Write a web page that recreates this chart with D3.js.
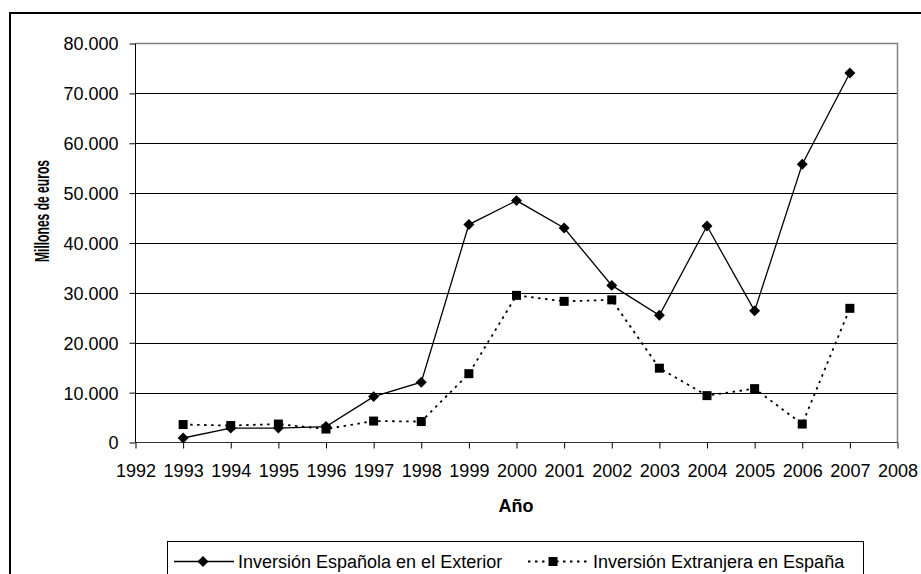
<!DOCTYPE html>
<meta charset="utf-8">
<script src="https://cdn.jsdelivr.net/npm/d3@7"></script>
<style type="text/css">
    body {
        margin: 0;
        background: #fff;
    }

    .tick text {
        font-family: "Liberation Sans", Arial, sans-serif;
        font-size: 18px;
        fill: #000;
    }

    .label {
        font-family: "Liberation Sans", Arial, sans-serif;
        font-size: 18px;
        font-weight: bold;
    }

    .legend text {
        font-family: "Liberation Sans", Arial, sans-serif;
        font-size: 18px;
    }
</style>

<body>
    <script type="text/javascript">
        var years = [1993, 1994, 1995, 1996, 1997, 1998, 1999, 2000, 2001, 2002, 2003, 2004, 2005, 2006, 2007];
        var espanola = [900, 2900, 2900, 3200, 9200, 12100, 43700, 48500, 43000, 31500, 25500, 43400, 26400, 55800, 74100];
        var extranjera = [3600, 3400, 3700, 2700, 4300, 4200, 13800, 29500, 28300, 28600, 14900, 9400, 10800, 3700, 26900];
        var seriesNames = ["Inversión Española en el Exterior", "Inversión Extranjera en España"];
        var yTicks = [0, 10000, 20000, 30000, 40000, 50000, 60000, 70000, 80000];
        var xTicks = d3.range(1992, 2009);

        var width = 921, height = 574;
        var plot = { left: 135.5, right: 897.5, top: 43.5, bottom: 442.5 };

        var svg = d3.select("body").append("svg")
            .attr("width", width)
            .attr("height", height);

        // outer chart border (runs off the picture right and bottom)
        svg.append("rect")
            .attr("x", 10)
            .attr("y", 13)
            .attr("width", 1000)
            .attr("height", 1000)
            .style("fill", "none")
            .style("stroke", "#000")
            .style("stroke-width", 2);

        var xScale = d3.scaleLinear()
            .domain([1992, 2008])
            .range([plot.left, plot.right]);

        var yScale = d3.scaleLinear()
            .domain([0, 80000])
            .range([plot.bottom, plot.top]);

        var es = d3.formatLocale({ decimal: ",", thousands: ".", grouping: [3], currency: ["", "€"] });
        var fmt = es.format(",d");

        // gridlines
        svg.append("g")
            .selectAll("line")
            .data(yTicks.slice(1, -1))
            .enter().append("line")
            .attr("x1", plot.left)
            .attr("x2", plot.right)
            .attr("y1", function (d) { return Math.round(yScale(d)) + 0.5; })
            .attr("y2", function (d) { return Math.round(yScale(d)) + 0.5; })
            .style("stroke", "#000")
            .style("stroke-width", 1);

        // plot border top / right
        svg.append("path")
            .attr("d", "M" + plot.left + "," + plot.top + "H" + plot.right + "V" + plot.bottom)
            .style("fill", "none")
            .style("stroke", "#808080")
            .style("stroke-width", 1.5);

        var yAxis = svg.append("g")
            .attr("transform", "translate(" + plot.left + ",0)")
            .call(d3.axisLeft(yScale).tickValues(yTicks).tickFormat(fmt).tickSize(6).tickPadding(11));

        var xAxis = svg.append("g")
            .attr("transform", "translate(0," + plot.bottom + ")")
            .call(d3.axisBottom(xScale).tickValues(xTicks).tickFormat(d3.format("d")).tickSize(6).tickPadding(16));

        svg.selectAll(".domain").style("stroke", "#000");
        svg.selectAll(".tick line").style("stroke", "#000");
        xAxis.select(".domain").attr("d", "M" + plot.left + ",0H" + plot.right).style("stroke", "#333");
        yAxis.select(".domain").attr("d", "M0," + plot.bottom + "V" + plot.top);
        yAxis.selectAll(".tick text").attr("dy", "0.36em");

        var line = d3.line()
            .x(function (d) { return xScale(d[0]); })
            .y(function (d) { return yScale(d[1]); });

        var d1 = years.map(function (y, i) { return [y, espanola[i]]; });
        var d2 = years.map(function (y, i) { return [y, extranjera[i]]; });

        svg.append("path")
            .datum(d2)
            .attr("d", line)
            .style("fill", "none")
            .style("stroke", "#000")
            .style("stroke-width", 1.8)
            .style("stroke-dasharray", "2.5,4.5");

        svg.append("path")
            .datum(d1)
            .attr("d", line)
            .style("fill", "none")
            .style("stroke", "#000")
            .style("stroke-width", 1.3);

        var diamond = d3.symbol().type(d3.symbolSquare).size(60);

        svg.selectAll(".sq")
            .data(d2)
            .enter().append("rect")
            .attr("x", function (d) { return xScale(d[0]) - 4.5; })
            .attr("y", function (d) { return yScale(d[1]) - 4.5; })
            .attr("width", 9)
            .attr("height", 9)
            .style("fill", "#000");

        svg.selectAll(".dm")
            .data(d1)
            .enter().append("path")
            .attr("d", diamond)
            .attr("transform", function (d) {
                return "translate(" + xScale(d[0]) + "," + yScale(d[1]) + ") rotate(45)";
            })
            .style("fill", "#000");

        // axis titles
        svg.append("text")
            .attr("x", 516)
            .attr("y", 512)
            .style("text-anchor", "middle")
            .text("Año")
            .attr("class", "label");

        svg.append("text")
            .attr("transform", "translate(49,211) rotate(-90)")
            .style("text-anchor", "middle")
            .style("font-size", "20px")
            .attr("textLength", 102)
            .attr("lengthAdjust", "spacingAndGlyphs")
            .text("Millones de euros")
            .attr("class", "label");

        // legend
        var legend = svg.append("g").attr("class", "legend");

        legend.append("rect")
            .attr("x", 167.5)
            .attr("y", 541.5)
            .attr("width", 696)
            .attr("height", 60)
            .style("fill", "#fff")
            .style("stroke", "#000")
            .style("stroke-width", 1);

        var ly = 561.5;
        legend.append("line")
            .attr("x1", 174).attr("x2", 234)
            .attr("y1", ly).attr("y2", ly)
            .style("stroke", "#000")
            .style("stroke-width", 1.3);
        legend.append("path")
            .attr("d", diamond)
            .attr("transform", "translate(203," + ly + ") rotate(45)")
            .style("fill", "#000");
        legend.append("text")
            .attr("x", 238)
            .attr("y", ly + 6.5)
            .text(seriesNames[0]);

        legend.append("line")
            .attr("x1", 528).attr("x2", 588)
            .attr("y1", ly).attr("y2", ly)
            .style("stroke", "#000")
            .style("stroke-width", 1.8)
            .style("stroke-dasharray", "2.5,4.5");
        legend.append("rect")
            .attr("x", 553 - 4.5)
            .attr("y", ly - 4.5)
            .attr("width", 9)
            .attr("height", 9)
            .style("fill", "#000");
        legend.append("text")
            .attr("x", 593)
            .attr("y", ly + 6.5)
            .text(seriesNames[1]);
    </script>
</body>

</html>
